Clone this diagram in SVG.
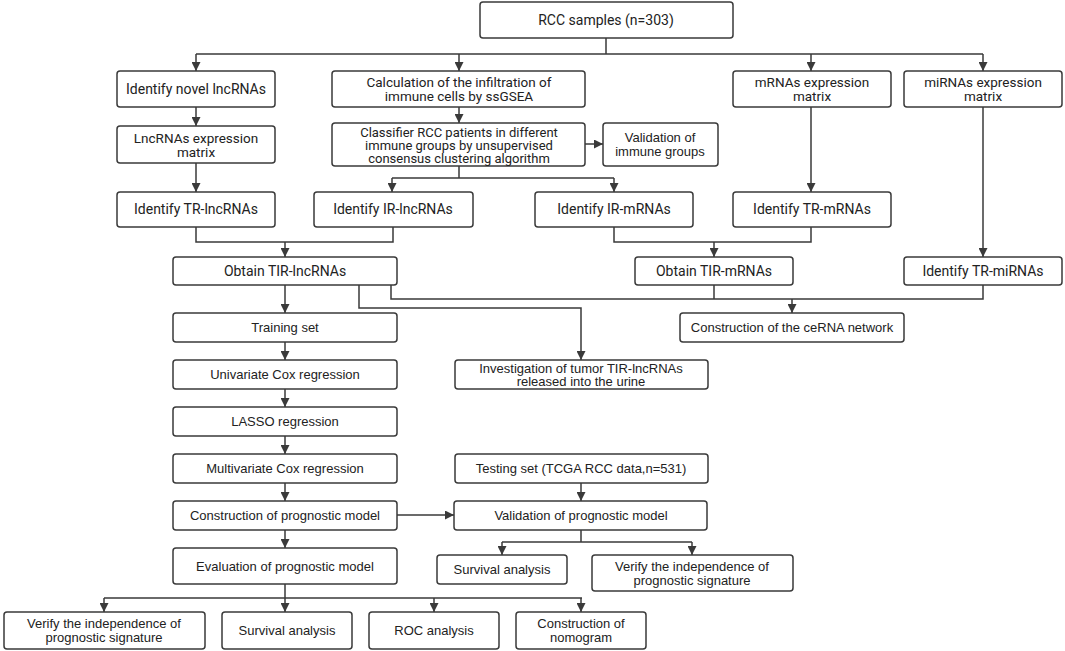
<svg xmlns="http://www.w3.org/2000/svg" width="1065" height="651" viewBox="0 0 1065 651">
<defs>
<marker id="ah" viewBox="0 0 10 10" refX="10" refY="5" markerWidth="9" markerHeight="9" markerUnits="userSpaceOnUse" orient="auto">
<path d="M0,0 L10,5 L0,10 z" fill="#3a3a3a"/>
</marker>
<style>
.b{fill:#fff;stroke:#3a3a3a;stroke-width:1.5}
.y{font-family:Roboto,"Noto Sans","DejaVu Sans",sans-serif;font-size:14px;fill:#222;text-anchor:middle}
.y2{font-size:13.5px}
.y3{font-size:13px}
.a{font-family:"Liberation Sans",Arial,sans-serif;font-size:13px;fill:#222;text-anchor:middle}
.c path{fill:none;stroke:#3a3a3a;stroke-width:1.5}
.c path.ar{marker-end:url(#ah)}
</style>
</defs>
<rect width="1065" height="651" fill="#fff"/>
<g class="c" id="connectors">
<path d="M606,38 V54 M196,54 H983"/>
<path class="ar" d="M196,54 V71"/>
<path class="ar" d="M459,54 V71"/>
<path class="ar" d="M811,54 V71"/>
<path class="ar" d="M983,54 V71"/>
<path class="ar" d="M196,107 V126"/>
<path class="ar" d="M196,163 V192"/>
<path class="ar" d="M459,107 V123"/>
<path class="ar" d="M585,144 H603"/>
<path d="M459,166 V178 M392,178 H614"/>
<path class="ar" d="M392,178 V192"/>
<path class="ar" d="M614,178 V192"/>
<path class="ar" d="M811,107 V192"/>
<path class="ar" d="M983,107 V257"/>
<path d="M196,227 V242 H393 V227"/>
<path class="ar" d="M285,242 V257"/>
<path d="M614,227 V242 H811 V227"/>
<path class="ar" d="M714,242 V257"/>
<path class="ar" d="M285,285 V313"/>
<path d="M391,285 V299 H983 V285 M714,285 V299"/>
<path class="ar" d="M792,299 V313"/>
<path class="ar" d="M359,285 V308 H581 V360"/>
<path class="ar" d="M285,342 V360"/>
<path class="ar" d="M285,389 V407"/>
<path class="ar" d="M285,436 V454"/>
<path class="ar" d="M285,483 V501"/>
<path class="ar" d="M285,530 V548"/>
<path class="ar" d="M397,515 H454"/>
<path class="ar" d="M581,483 V501"/>
<path d="M581,530 V542 M502,542 H692"/>
<path class="ar" d="M502,542 V555"/>
<path class="ar" d="M692,542 V555"/>
<path d="M285,584 V598 M104,598 H582"/>
<path class="ar" d="M104,598 V612"/>
<path class="ar" d="M285,598 V612"/>
<path class="ar" d="M434,598 V612"/>
<path class="ar" d="M581,598 V612"/>
</g>
<g id="rcc"><rect class="b" x="480" y="2" width="253" height="36" rx="3"/><text class="y" x="606" y="25">RCC samples (n=303)</text></g>
<g id="novel"><rect class="b" x="117" y="71" width="158" height="36" rx="3"/><text class="y" x="196" y="94">Identify novel lncRNAs</text></g>
<g id="calc"><rect class="b" x="332" y="71" width="253" height="36" rx="3"/><text class="y y2" x="459" y="87">Calculation of the infiltration of</text><text class="y y2" x="459" y="101">immune cells by ssGSEA</text></g>
<g id="mrnamat"><rect class="b" x="733" y="71" width="158" height="36" rx="3"/><text class="y y2" x="812" y="87">mRNAs expression</text><text class="y y2" x="812" y="101">matrix</text></g>
<g id="mirnamat"><rect class="b" x="904" y="71" width="158" height="36" rx="3"/><text class="y y2" x="983" y="87">miRNAs expression</text><text class="y y2" x="983" y="101">matrix</text></g>
<g id="lncmat"><rect class="b" x="117" y="126" width="158" height="37" rx="3"/><text class="y y2" x="196" y="143">LncRNAs expression</text><text class="y y2" x="196" y="157">matrix</text></g>
<g id="classifier"><rect class="b" x="332" y="123" width="253" height="43" rx="3"/><text class="y y3" x="459" y="137">Classifier RCC patients in different</text><text class="y y3" x="459" y="150">immune groups by unsupervised</text><text class="y y3" x="459" y="163">consensus clustering algorithm</text></g>
<g id="validimmune"><rect class="b" x="603" y="123" width="115" height="43" rx="3"/><text class="a" x="660" y="142">Validation of</text><text class="a" x="660" y="156">immune groups</text></g>
<g id="trlnc"><rect class="b" x="117" y="192" width="158" height="35" rx="3"/><text class="y" x="196" y="214">Identify TR-lncRNAs</text></g>
<g id="irlnc"><rect class="b" x="314" y="192" width="159" height="35" rx="3"/><text class="y" x="393" y="214">Identify IR-lncRNAs</text></g>
<g id="irmrna"><rect class="b" x="535" y="192" width="158" height="35" rx="3"/><text class="y" x="614" y="214">Identify IR-mRNAs</text></g>
<g id="trmrna"><rect class="b" x="733" y="192" width="158" height="35" rx="3"/><text class="y" x="812" y="214">Identify TR-mRNAs</text></g>
<g id="obtainlnc"><rect class="b" x="173" y="257" width="224" height="28" rx="3"/><text class="y" x="285" y="276">Obtain TIR-lncRNAs</text></g>
<g id="obtainmrna"><rect class="b" x="635" y="257" width="158" height="28" rx="3"/><text class="y" x="714" y="276">Obtain TIR-mRNAs</text></g>
<g id="trmirna"><rect class="b" x="904" y="257" width="158" height="28" rx="3"/><text class="y" x="983" y="276">Identify TR-miRNAs</text></g>
<g id="training"><rect class="b" x="173" y="313" width="224" height="29" rx="3"/><text class="a" x="285" y="332">Training set</text></g>
<g id="cerna"><rect class="b" x="680" y="313" width="224" height="29" rx="3"/><text class="a" x="792" y="332">Construction of the ceRNA network</text></g>
<g id="univ"><rect class="b" x="173" y="360" width="224" height="29" rx="3"/><text class="a" x="285" y="379">Univariate Cox regression</text></g>
<g id="invest"><rect class="b" x="455" y="360" width="253" height="29" rx="3"/><text class="a" x="581" y="373">Investigation of tumor TIR-lncRNAs</text><text class="a" x="581" y="386">released into the urine</text></g>
<g id="lasso"><rect class="b" x="173" y="407" width="224" height="29" rx="3"/><text class="a" x="285" y="426">LASSO regression</text></g>
<g id="multi"><rect class="b" x="173" y="454" width="224" height="29" rx="3"/><text class="a" x="285" y="473">Multivariate Cox regression</text></g>
<g id="testing"><rect class="b" x="455" y="454" width="253" height="29" rx="3"/><text class="a" x="581" y="473">Testing set (TCGA RCC data,n=531)</text></g>
<g id="construct"><rect class="b" x="173" y="501" width="224" height="29" rx="3"/><text class="a" x="285" y="520">Construction of prognostic model</text></g>
<g id="validation"><rect class="b" x="454" y="501" width="253" height="29" rx="3"/><text class="a" x="581" y="520">Validation of prognostic model</text></g>
<g id="eval"><rect class="b" x="173" y="548" width="224" height="36" rx="3"/><text class="a" x="285" y="571">Evaluation of prognostic model</text></g>
<g id="survr"><rect class="b" x="437" y="555" width="130" height="29" rx="3"/><text class="a" x="502" y="574">Survival analysis</text></g>
<g id="verifyr"><rect class="b" x="592" y="555" width="201" height="36" rx="3"/><text class="a" x="692" y="571">Verify the independence of</text><text class="a" x="692" y="585">prognostic signature</text></g>
<g id="verifyl"><rect class="b" x="4" y="612" width="201" height="37" rx="3"/><text class="a" x="104" y="628">Verify the independence of</text><text class="a" x="104" y="642">prognostic signature</text></g>
<g id="survl"><rect class="b" x="222" y="612" width="130" height="37" rx="3"/><text class="a" x="287" y="635">Survival analysis</text></g>
<g id="roc"><rect class="b" x="369" y="612" width="130" height="37" rx="3"/><text class="a" x="434" y="635">ROC analysis</text></g>
<g id="nomo"><rect class="b" x="516" y="612" width="130" height="37" rx="3"/><text class="a" x="581" y="628">Construction of</text><text class="a" x="581" y="642">nomogram</text></g>
</svg>
